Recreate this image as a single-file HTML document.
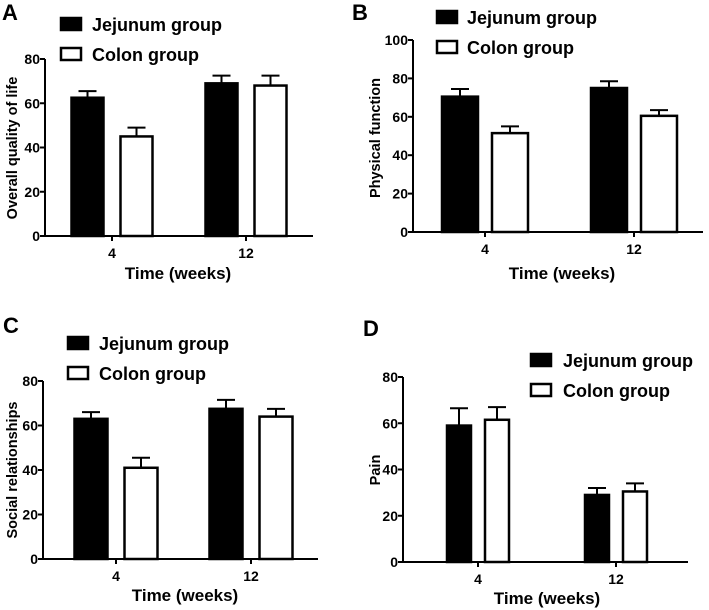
<!DOCTYPE html>
<html><head><meta charset="utf-8">
<style>
html,body{margin:0;padding:0;background:#fff;}
svg{display:block;font-family:"Liberation Sans",Arial,sans-serif;font-weight:bold;}
</style></head>
<body>
<svg id="fig" width="709" height="610" viewBox="0 0 709 610" xmlns="http://www.w3.org/2000/svg"></svg>
<script>
// ---- data ----
const categories = ["4", "12"];
const seriesNames = ["Jejunum group", "Colon group"];
const panelLetters = ["A", "B", "C", "D"];
const panelYTitles = ["Overall quality of life", "Physical function", "Social relationships", "Pain"];
const panelYMax = [80, 100, 80, 80];
const ticksA = [0, 20, 40, 60, 80];
const ticksB = [0, 20, 40, 60, 80, 100];
const ticksC = [0, 20, 40, 60, 80];
const ticksD = [0, 20, 40, 60, 80];
// values [week4, week12]
const jejunumA = [62.5, 69];
const colonA = [45, 68];
const jejunumErrA = [3, 3.5];
const colonErrA = [4, 4.5];
const jejunumB = [70.5, 75];
const colonB = [51.5, 60.5];
const jejunumErrB = [4, 3.5];
const colonErrB = [3.5, 3];
const jejunumC = [63, 67.5];
const colonC = [41, 64];
const jejunumErrC = [3, 4];
const colonErrC = [4.5, 3.5];
const jejunumD = [59, 29];
const colonD = [61.5, 30.5];
const jejunumErrD = [7.5, 3];
const colonErrD = [5.5, 3.5];

// ---- layout (pixels) ----
const layouts = [
  {ax:45, y0:236, yTop:59, xEnd:313, centers:[112,246], bw:34, gap:15, letter:[2,20], leg:[60,17,47,92], yl:[12,148], xt:[178,273]},
  {ax:413, y0:232, yTop:40, xEnd:703, centers:[485,634], bw:38, gap:12, letter:[352,20], leg:[436,10,40,467], yl:[375,138], xt:[562,273]},
  {ax:43, y0:559, yTop:381, xEnd:318, centers:[116,251], bw:35, gap:15, letter:[3,333], leg:[67,336,366,99], yl:[12,470], xt:[185,595]},
  {ax:403, y0:562, yTop:377, xEnd:688, centers:[478,616], bw:26, gap:12, letter:[363,336], leg:[530,353,383,563], yl:[375,470], xt:[547,598]}
];
const allTicks = [ticksA, ticksB, ticksC, ticksD];
const allJ = [jejunumA, jejunumB, jejunumC, jejunumD];
const allC = [colonA, colonB, colonC, colonD];
const allJE = [jejunumErrA, jejunumErrB, jejunumErrC, jejunumErrD];
const allCE = [colonErrA, colonErrB, colonErrC, colonErrD];

const NS = "http://www.w3.org/2000/svg";
const svg = document.getElementById("fig");
function mk(tag, attrs, parent, text) {
  const e = document.createElementNS(NS, tag);
  for (const k in attrs) e.setAttribute(k, attrs[k]);
  if (text !== undefined) e.textContent = text;
  parent.appendChild(e);
  return e;
}

for (let p = 0; p < 4; p++) {
  const L = layouts[p];
  const g = mk("g", {}, svg);
  
  
  const yScale = v => L.y0 - (v / panelYMax[p]) * (L.y0 - L.yTop);

  const letter = mk("text", {x:L.letter[0], y:L.letter[1], "font-size":22}, g, panelLetters[p]);
  
  

  for (let i = 0; i < categories.length; i++) {
    const c = L.centers[i];
    const vals = [allJ[p][i], allC[p][i]];
    const errs = [allJE[p][i], allCE[p][i]];
    for (let s = 0; s < 2; s++) {
      const x = s === 0 ? c - L.gap / 2 - L.bw : c + L.gap / 2;
      const yt = yScale(vals[s]);
      const ye = yScale(vals[s] + errs[s]);
      const cx = x + L.bw / 2;
      const eb = mk("line", {x1:cx, x2:cx, y1:yt, y2:ye, stroke:"#000", "stroke-width":2}, g);
      
      
      const cap = mk("line", {x1:cx - 9, x2:cx + 9, y1:ye, y2:ye, stroke:"#000", "stroke-width":2}, g);
      
      
      const r = mk("rect", {x:x + 1, y:yt, width:L.bw - 2, height:L.y0 - yt, fill:s === 0 ? "#000" : "#fff", stroke:"#000", "stroke-width":2.5}, g);
      
      
    }
    const xt = mk("line", {x1:c, x2:c, y1:L.y0, y2:L.y0 + 5, stroke:"#000", "stroke-width":2}, g);
    
    
    const xl = mk("text", {x:c, y:L.y0 + 22, "font-size":14, "text-anchor":"middle"}, g, categories[i]);
    
    
  }

  const yAxis = mk("line", {x1:L.ax, x2:L.ax, y1:L.yTop, y2:L.y0 + 1, stroke:"#000", "stroke-width":2}, g);
  
  
  const xAxis = mk("line", {x1:L.ax - 1, x2:L.xEnd, y1:L.y0, y2:L.y0, stroke:"#000", "stroke-width":2}, g);
  
  
  for (const t of allTicks[p]) {
    const y = yScale(t);
    const tk = mk("line", {x1:L.ax - 5, x2:L.ax, y1:y, y2:y, stroke:"#000", "stroke-width":2}, g);
    
    
    const tl = mk("text", {x:L.ax - 5, y:y + 5, "font-size":14, "text-anchor":"end"}, g, String(t));
    
    
  }

  const yt = mk("text", {x:0, y:0, "font-size":14.5, "text-anchor":"middle", transform:`translate(${L.yl[0] + 5},${L.yl[1]}) rotate(-90)`}, g, panelYTitles[p]);
  
  
  const xtt = mk("text", {x:L.xt[0], y:L.xt[1] + 6, "font-size":17, "text-anchor":"middle"}, g, "Time (weeks)");
  
  

  const ys = [L.leg[1], L.leg[2]];
  for (let s = 0; s < 2; s++) {
    const lg = mk("g", {}, g);
    
    
    mk("rect", {x:L.leg[0] + 1, y:ys[s] + 1, width:20, height:12, fill:s === 0 ? "#000" : "#fff", stroke:"#000", "stroke-width":2.5}, lg);
    mk("text", {x:L.leg[3], y:ys[s] + 14, "font-size":18}, lg, seriesNames[s]);
  }
}
</script>
</body></html>
